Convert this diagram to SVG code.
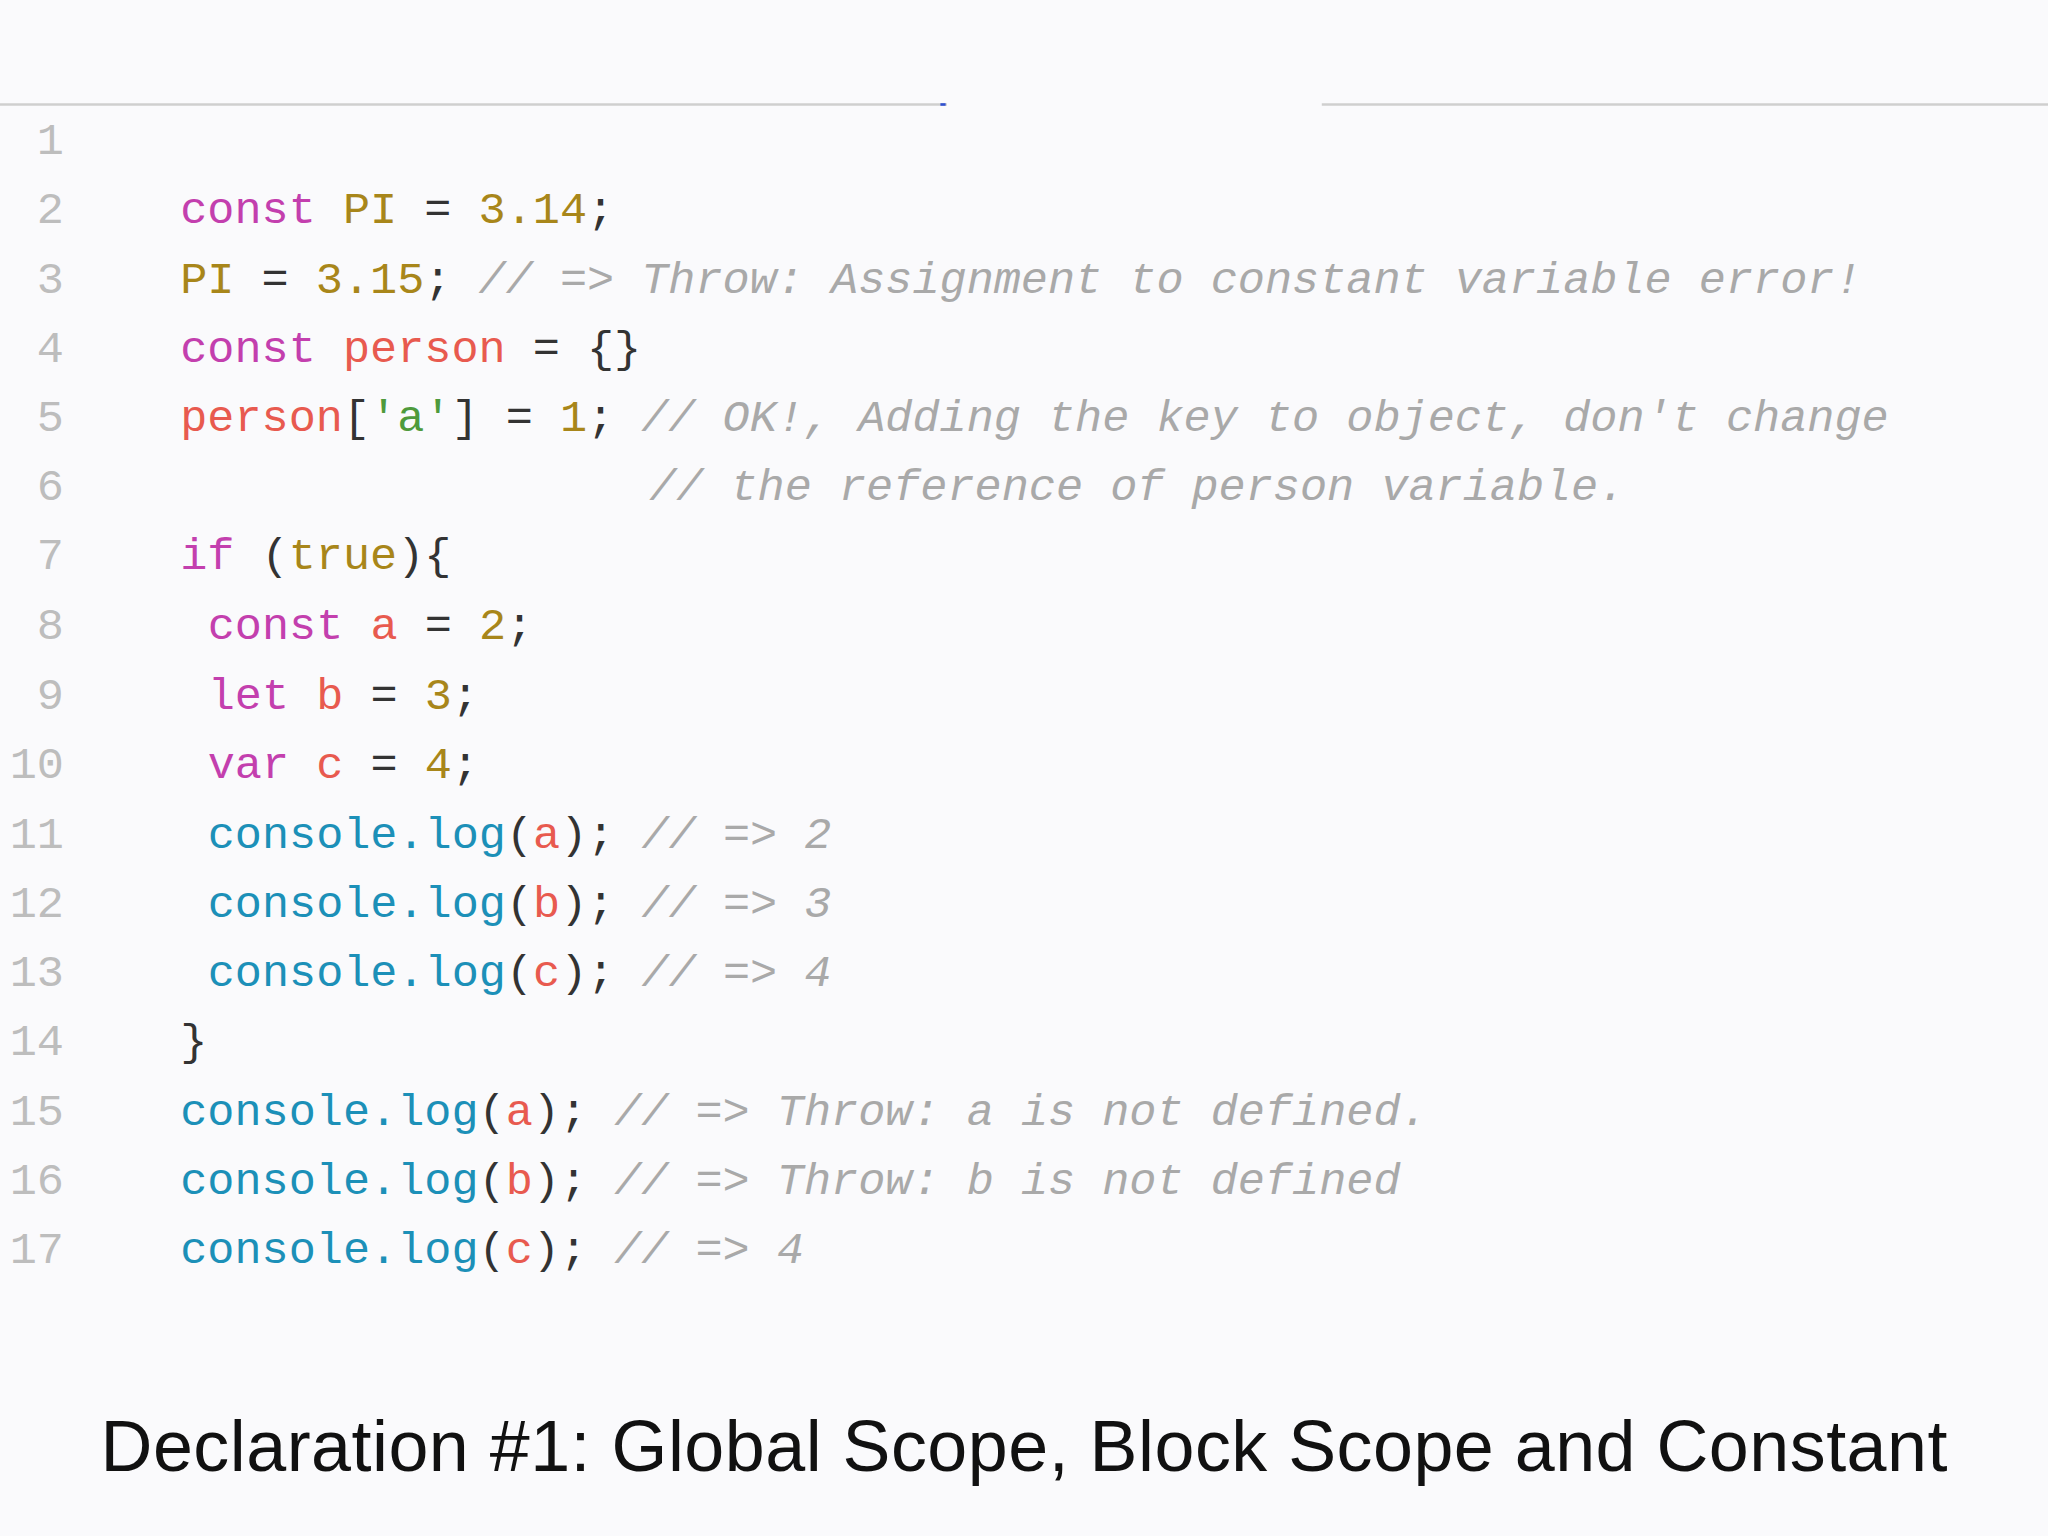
<svg xmlns="http://www.w3.org/2000/svg" width="2048" height="1536" viewBox="0 0 2048 1536">
<style>
.c{font-family:"Liberation Mono","DejaVu Sans Mono",monospace;font-size:34.6px;white-space:pre;fill:#333}
.n{font-family:"Liberation Mono","DejaVu Sans Mono",monospace;font-size:34.6px;fill:#bdbdbd;text-anchor:end}
.k{fill:#c33fae}.v{fill:#a8861a}.p{fill:#e85a4f}.f{fill:#1c90b8}.s{fill:#4e9a3c}.m{fill:#a9a9a9;font-style:italic}
.t{font-family:"Helvetica Neue","Liberation Sans",Arial,sans-serif;font-size:55px;fill:#111;text-anchor:middle}
</style>
<rect width="2048" height="1536" fill="#fafafc"/>
<g transform="scale(1.30612)">
<line x1="0" y1="80" x2="725" y2="80" stroke="#cfcfcf" stroke-width="2"/>
<line x1="1012" y1="80" x2="1568" y2="80" stroke="#cfcfcf" stroke-width="2"/>
<rect x="720" y="79" width="4" height="2" fill="#3050d0"/>
<g id="line-numbers">
<text class="n" x="49" y="118">1</text><text class="n" x="49" y="171">2</text><text class="n" x="49" y="224">3</text><text class="n" x="49" y="277">4</text><text class="n" x="49" y="330">5</text><text class="n" x="49" y="383">6</text><text class="n" x="49" y="436">7</text><text class="n" x="49" y="489">8</text><text class="n" x="49" y="543">9</text><text class="n" x="49" y="596">10</text><text class="n" x="49" y="649">11</text><text class="n" x="49" y="702">12</text><text class="n" x="49" y="755">13</text><text class="n" x="49" y="808">14</text><text class="n" x="49" y="861">15</text><text class="n" x="49" y="914">16</text><text class="n" x="49" y="967">17</text>
</g>
<g id="code">
<text class="c" x="138" y="171"><tspan class="k">const</tspan> <tspan class="v">PI</tspan> = <tspan class="v">3.14</tspan>;</text>
<text class="c" x="138" y="224"><tspan class="v">PI</tspan> = <tspan class="v">3.15</tspan>; <tspan class="m">// =&gt; Throw: Assignment to constant variable error!</tspan></text>
<text class="c" x="138" y="277"><tspan class="k">const</tspan> <tspan class="p">person</tspan> = {}</text>
<text class="c" x="138" y="330"><tspan class="p">person</tspan>[<tspan class="s">'a'</tspan>] = <tspan class="v">1</tspan>; <tspan class="m">// OK!, Adding the key to object, don't change</tspan></text>
<text class="c m" x="497" y="383">// the reference of person variable.</text>
<text class="c" x="138" y="436"><tspan class="k">if</tspan> (<tspan class="v">true</tspan>){</text>
<text class="c" x="159" y="489"><tspan class="k">const</tspan> <tspan class="p">a</tspan> = <tspan class="v">2</tspan>;</text>
<text class="c" x="159" y="543"><tspan class="k">let</tspan> <tspan class="p">b</tspan> = <tspan class="v">3</tspan>;</text>
<text class="c" x="159" y="596"><tspan class="k">var</tspan> <tspan class="p">c</tspan> = <tspan class="v">4</tspan>;</text>
<text class="c" x="159" y="649"><tspan class="f">console.log</tspan>(<tspan class="p">a</tspan>); <tspan class="m">// =&gt; 2</tspan></text>
<text class="c" x="159" y="702"><tspan class="f">console.log</tspan>(<tspan class="p">b</tspan>); <tspan class="m">// =&gt; 3</tspan></text>
<text class="c" x="159" y="755"><tspan class="f">console.log</tspan>(<tspan class="p">c</tspan>); <tspan class="m">// =&gt; 4</tspan></text>
<text class="c" x="138" y="808">}</text>
<text class="c" x="138" y="861"><tspan class="f">console.log</tspan>(<tspan class="p">a</tspan>); <tspan class="m">// =&gt; Throw: a is not defined.</tspan></text>
<text class="c" x="138" y="914"><tspan class="f">console.log</tspan>(<tspan class="p">b</tspan>); <tspan class="m">// =&gt; Throw: b is not defined</tspan></text>
<text class="c" x="138" y="967"><tspan class="f">console.log</tspan>(<tspan class="p">c</tspan>); <tspan class="m">// =&gt; 4</tspan></text>
</g>
<g id="title"><text class="t" x="784" y="1126" textLength="1414">Declaration #1: Global Scope, Block Scope and Constant</text></g>
</g>
</svg>
